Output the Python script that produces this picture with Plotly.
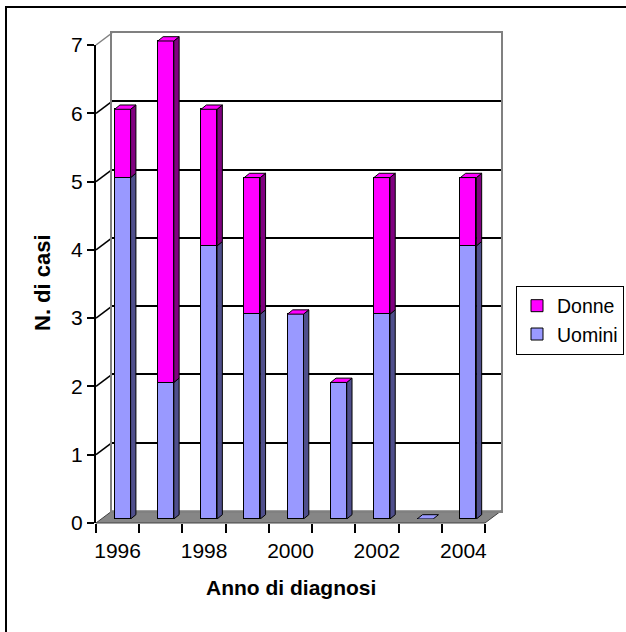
import plotly.graph_objects as go

# ---------------- data ----------------
years = [1996, 1997, 1998, 1999, 2000, 2001, 2002, 2003, 2004]
uomini = [5, 2, 4, 3, 3, 2, 3, 0, 4]
donne = [1, 5, 2, 2, 0, 0, 2, 0, 1]
y_ticks = [0, 1, 2, 3, 4, 5, 6, 7]
x_labels = ["1996", "", "1998", "", "2000", "", "2002", "", "2004"]

# ---------------- geometry / style ----------------
W, H = 626, 632
FX0, FX1 = 96, 485          # front axis pixel extent (x)
FY0, FYT = 523, 45          # front axis pixel of 0 and of max
YMAX = 7
BACK_DX, BACK_DY = 16, -12  # back wall offset
BAR_DX, BAR_DY = 5, -4      # bar front plane offset
FACE_DX, FACE_DY = 5.3, -4.3  # bar depth
BAR_W = 0.37
FONT = "Liberation Sans, Arial, sans-serif"

C_U, C_U_SIDE = "#9999FF", "#4F4F8C"
C_D, C_D_SIDE = "#FF00FF", "#800080"


def px(x):
    return x / W


def py(y):
    return 1 - y / H


unit = (FY0 - FYT) / YMAX
cat = (FX1 - FX0) / len(years)
xr0, xr1 = years[0] - 0.5, years[-1] + 0.5
ddx = FACE_DX / cat
ddy = -FACE_DY / unit
C_TOP = 7.5

fig = go.Figure()

# empty traces so that the front axis and back wall subplots are drawn
fig.add_trace(go.Scatter(x=[], y=[], xaxis="x", yaxis="y", showlegend=False, hoverinfo="skip"))
fig.add_trace(go.Scatter(x=[], y=[], xaxis="x2", yaxis="y2", showlegend=False, hoverinfo="skip"))

# front faces (real bars)
fig.add_trace(go.Bar(x=years, y=uomini, name="Uomini", width=BAR_W,
                     marker=dict(color=C_U, line=dict(color="black", width=1)),
                     xaxis="x3", yaxis="y3"))
fig.add_trace(go.Bar(x=years, y=donne, name="Donne", width=BAR_W,
                     marker=dict(color=C_D, line=dict(color="black", width=1)),
                     xaxis="x3", yaxis="y3"))

# side faces
for base_list, vals, col in [([0] * len(years), uomini, C_U_SIDE),
                             (uomini, donne, C_D_SIDE)]:
    xs, ys = [], []
    for yr, b, v in zip(years, base_list, vals):
        if v == 0:
            continue
        xr = yr + BAR_W / 2
        xs += [xr, xr + ddx, xr + ddx, xr, xr, None]
        ys += [b, b + ddy, b + v + ddy, b + v, b, None]
    fig.add_trace(go.Scatter(x=xs, y=ys, mode="lines", fill="toself",
                             fillcolor=col, line=dict(color="black", width=1),
                             showlegend=False, hoverinfo="skip",
                             xaxis="x3", yaxis="y3"))

# top faces
tops = {C_D: ([], []), C_U: ([], [])}
for yr, u, d in zip(years, uomini, donne):
    t = u + d
    col = C_D if t > 0 else C_U
    xl, xr = yr - BAR_W / 2, yr + BAR_W / 2
    tops[col][0].extend([xl, xr, xr + ddx, xl + ddx, xl, None])
    tops[col][1].extend([t, t, t + ddy, t + ddy, t, None])
for col, (xs, ys) in tops.items():
    fig.add_trace(go.Scatter(x=xs, y=ys, mode="lines", fill="toself",
                             fillcolor=col, line=dict(color="black", width=1),
                             showlegend=False, hoverinfo="skip",
                             xaxis="x3", yaxis="y3"))

shapes = []
# floor
fl = [(FX0, FY0), (FX1, FY0), (FX1 + BACK_DX, FY0 + BACK_DY), (FX0 + BACK_DX, FY0 + BACK_DY)]
path = "M " + " L ".join(f"{px(a):.5f},{py(b):.5f}" for a, b in fl) + " Z"
shapes.append(dict(type="path", path=path, xref="paper", yref="paper",
                   fillcolor="#868686", line=dict(color="#404040", width=1), layer="below"))
# side-wall lines
for v in y_ticks[1:]:
    yf = FY0 - v * unit
    shapes.append(dict(type="line", xref="paper", yref="paper",
                       x0=px(FX0), y0=py(yf), x1=px(FX0 + BACK_DX), y1=py(yf + BACK_DY),
                       line=dict(color="#808080" if v == YMAX else "black", width=1.5),
                       layer="below"))
# outer chart border
shapes.append(dict(type="rect", xref="paper", yref="paper",
                   x0=px(6), x1=1.05, y0=-0.05, y1=py(7),
                   line=dict(color="black", width=2), fillcolor="rgba(0,0,0,0)"))

bx0, bx1 = FX0 + BACK_DX, FX1 + BACK_DX
by0, byt = FY0 + BACK_DY, FYT + BACK_DY
cy0 = FY0 + BAR_DY
cyt = cy0 - C_TOP * unit

fig.update_layout(
    width=W, height=H, autosize=False,
    margin=dict(l=0, r=0, t=0, b=0, pad=0, autoexpand=False),
    paper_bgcolor="white", plot_bgcolor="rgba(0,0,0,0)",
    font=dict(family=FONT, size=21, color="black"),
    barmode="stack", bargap=0,
    showlegend=True,
    legend=dict(x=px(624), y=py(320), xanchor="right", yanchor="middle",
                bordercolor="black", borderwidth=1, bgcolor="white",
                font=dict(size=19.5), traceorder="reversed", itemwidth=30),
    xaxis=dict(domain=[px(FX0), px(FX1)], range=[xr0, xr1], anchor="y",
               tickmode="array", tickvals=years, ticktext=x_labels,
               ticks="outside", ticklen=9, tickcolor="rgba(0,0,0,0)",
               minor=dict(tickmode="array", tickvals=[y - 0.5 for y in years] + [years[-1] + 0.5],
                          ticks="outside", ticklen=9, tickwidth=2, tickcolor="black"),
               showline=False, showgrid=False, zeroline=False,
               tickfont=dict(size=21)),
    yaxis=dict(domain=[py(FY0), py(FYT)], range=[0, YMAX], anchor="x",
               tickmode="array", tickvals=y_ticks,
               ticks="outside", ticklen=7, tickwidth=2, tickcolor="black",
               showline=True, linecolor="black", linewidth=2,
               showgrid=False, zeroline=False, tickfont=dict(size=21)),
    xaxis2=dict(domain=[px(bx0), px(bx1)], range=[xr0, xr1], anchor="y2",
                showticklabels=False, ticks="", showgrid=False, zeroline=False,
                showline=True, mirror=True, linecolor="#808080", linewidth=2),
    yaxis2=dict(domain=[py(by0), py(byt)], range=[0, YMAX], anchor="x2",
                tickmode="array", tickvals=y_ticks[1:-1],
                showticklabels=False, ticks="", showgrid=True, gridcolor="black",
                gridwidth=1.5, zeroline=False,
                showline=True, mirror=True, linecolor="#808080", linewidth=2),
    xaxis3=dict(domain=[px(FX0 + BAR_DX), px(FX1 + BAR_DX)], range=[xr0, xr1], anchor="y3",
                visible=False),
    yaxis3=dict(domain=[py(cy0), py(cyt)], range=[0, C_TOP], anchor="x3",
                visible=False),
    shapes=shapes,
    annotations=[
        dict(text="<b>N. di casi</b>", x=px(43), y=py(283), xref="paper", yref="paper",
             textangle=-90, showarrow=False, xanchor="center", yanchor="middle",
             font=dict(size=22)),
        dict(text="<b>Anno di diagnosi</b>", x=px(291), y=py(587), xref="paper", yref="paper",
             showarrow=False, xanchor="center", yanchor="middle", font=dict(size=21)),
    ],
)

fig.write_html("out.html", config={"displayModeBar": False},
               post_script="document.body.style.margin='0';")
